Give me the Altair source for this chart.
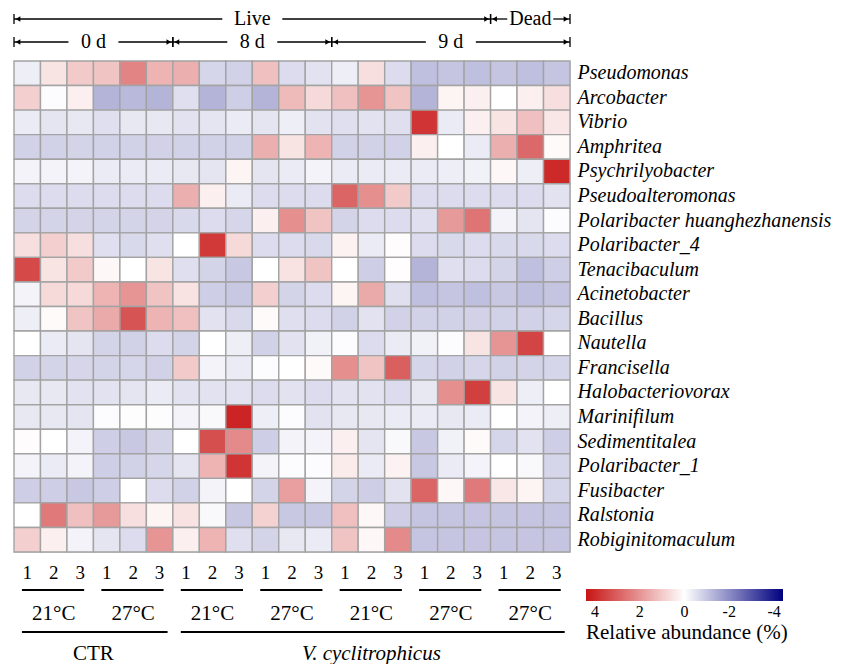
import altair as alt
import pandas as pd

# ---------------- data ----------------
taxa = ["Pseudomonas", "Arcobacter", "Vibrio", "Amphritea", "Psychrilyobacter",
        "Pseudoalteromonas", "Polaribacter huanghezhanensis", "Polaribacter_4",
        "Tenacibaculum", "Acinetobacter", "Bacillus", "Nautella", "Francisella",
        "Halobacteriovorax", "Marinifilum", "Sedimentitalea", "Polaribacter_1",
        "Fusibacter", "Ralstonia", "Robiginitomaculum"]

pseudomonas = [-0.3, 0.5, 1.0, 1.1, 2.3, 1.4, 1.5, -0.7, -0.8, 1.2, -0.6, -0.5, -0.3, 0.6, -0.6, -1.1, -1.0, -1.1, -1.0, -1.1, -1.0]
arcobacter = [0.9, -0.05, 0.3, -1.3, -1.2, -1.3, -0.55, -1.3, -0.85, -1.3, 1.3, 0.7, 1.2, 2.0, 1.1, -1.3, 0.2, 0.3, 0.0, 0.3, 0.6]
vibrio = [-0.35, -0.45, -0.4, -0.55, -0.4, -0.4, -0.5, -0.45, -0.35, -0.45, -0.3, -0.5, -0.55, -0.5, -0.55, 3.8, -0.35, 0.3, 0.5, 1.2, 0.45]
amphritea = [-0.8, -0.8, -0.75, -0.8, -0.8, -0.8, -0.8, -0.8, -0.8, 1.5, 0.5, 1.4, -0.8, -0.8, -0.8, 0.3, 0.0, -0.35, 1.5, 2.8, 0.1]
psychrilyobacter = [-0.2, -0.2, -0.2, -0.35, -0.35, -0.35, -0.4, -0.45, 0.2, -0.45, -0.35, -0.2, -0.35, -0.35, -0.35, -0.35, -0.3, -0.25, 0.15, -0.3, 4.0]
pseudoalteromonas = [-0.6, -0.6, -0.6, -0.6, -0.6, -0.6, 1.5, 0.3, -0.35, -0.6, -0.6, -0.6, 2.9, 2.1, 1.0, -0.6, -0.6, -0.6, -0.6, -0.6, -0.5]
polaribacter_hh = [-0.75, -0.75, -0.75, -0.75, -0.75, -0.75, -0.65, -0.6, -0.7, 0.3, 2.1, 1.1, -0.75, -0.6, -0.6, -0.55, 1.9, 2.6, -0.2, -0.45, -0.05]
polaribacter_4 = [0.6, 0.9, 0.6, -0.55, -0.65, -0.55, 0.0, 3.7, 0.7, -0.6, -0.6, -0.65, 0.25, -0.35, 0.05, -0.6, -0.65, -0.6, -0.65, -0.65, -0.6]
tenacibaculum = [3.4, 0.5, 1.0, 0.15, 0.0, 0.5, -0.55, -0.75, -0.95, 0.0, 0.55, 1.1, 0.0, -0.85, 0.03, -1.3, -0.55, -0.6, -0.75, -1.1, -0.85]
acinetobacter = [-0.2, 0.7, 0.7, 1.4, 2.0, 1.1, 0.55, -0.85, -0.95, 0.9, -0.75, -0.6, 0.2, 1.6, -0.55, -1.1, -1.0, -1.1, -0.95, -1.1, -1.0]
bacillus = [-0.3, 0.1, 1.1, 1.6, 3.2, 1.4, 1.2, -0.5, -0.65, 0.1, -0.55, -0.6, -0.8, -0.5, -0.8, -0.8, -0.8, -0.8, -0.8, -0.8, -0.7]
nautella = [0.0, -0.35, -0.45, -0.75, -0.8, -0.6, -0.75, 0.0, -0.3, -0.8, -0.5, -0.25, -0.05, -0.6, -0.35, -0.25, -0.05, 0.5, 2.0, 3.5, 0.0]
francisella = [-0.8, -0.75, -0.7, -0.75, -0.7, -0.8, 1.0, -0.2, -0.35, -0.05, 0.0, 0.1, 2.1, 1.1, 3.0, -0.7, -0.8, -0.7, -0.8, -0.75, -0.7]
halobacteriovorax = [-0.4, -0.4, -0.5, -0.5, -0.45, -0.35, -0.5, -0.5, -0.5, -0.6, -0.5, -0.6, -0.5, -0.5, -0.6, -0.4, 2.1, 3.6, 0.5, -0.3, 0.0]
marinifilum = [-0.4, -0.4, -0.45, -0.05, -0.03, -0.03, -0.2, -0.1, 4.1, -0.3, -0.05, -0.5, -0.4, -0.4, -0.35, -0.35, -0.4, -0.35, 0.0, -0.2, -0.3]
sedimentitalea = [0.05, 0.0, -0.2, -0.85, -0.95, -0.75, 0.0, 3.3, 2.2, -0.85, -0.2, -0.2, 0.3, -0.45, -0.1, -0.95, -0.25, 0.1, -0.7, -0.5, -0.85]
polaribacter_1 = [-0.2, -0.35, -0.2, -0.85, -0.8, -0.7, -0.45, 1.4, 3.8, -0.2, -0.05, -0.05, 0.35, -0.35, 0.25, -0.95, -0.35, -0.2, 0.0, -0.1, -0.7]
fusibacter = [-0.85, -0.85, -0.95, -0.85, 0.0, -0.6, -0.8, -0.2, 0.0, -0.75, 1.8, -0.2, -0.75, -0.85, -0.5, 2.9, 0.15, 2.5, 0.45, 0.2, -0.7]
ralstonia = [0.0, 2.5, 1.2, 1.9, 0.6, 0.2, 0.55, -0.1, -0.95, 0.85, -0.95, -0.95, 1.2, 0.15, -0.85, -1.0, -1.0, -1.0, -1.0, -1.0, -1.0]
robiginitomaculum = [0.9, 0.3, -0.2, -0.45, -0.6, 2.0, 0.3, 1.4, -0.55, -0.75, -0.4, -0.35, 1.1, 0.15, 2.2, -1.0, -1.0, -1.0, -1.0, -1.0, -1.0]

rows = [pseudomonas, arcobacter, vibrio, amphritea, psychrilyobacter, pseudoalteromonas,
        polaribacter_hh, polaribacter_4, tenacibaculum, acinetobacter, bacillus, nautella,
        francisella, halobacteriovorax, marinifilum, sedimentitalea, polaribacter_1,
        fusibacter, ralstonia, robiginitomaculum]

replicates = ["1", "2", "3"] * 7

state_groups = [("Live", 0, 18), ("Dead", 18, 21)]
day_groups = [("0 d", 0, 6), ("8 d", 6, 12), ("9 d", 12, 21)]
temp_groups = [("21°C", 0, 3), ("27°C", 3, 6), ("21°C", 6, 9), ("27°C", 9, 12),
               ("21°C", 12, 15), ("27°C", 15, 18), ("27°C", 18, 21)]
treat_groups = [("CTR", 0, 6, "normal"), ("V. cyclitrophicus", 6, 21, "italic")]

legend_values = [4, 2, 0, -2, -4]

# ---------------- layout ----------------
W, H = 556, 491
NCOL = len(replicates)
COLW = W / NCOL
FONT = "Liberation Serif"
gap_px = {"Live": 60, "Dead": 46, "0 d": 50, "8 d": 50, "9 d": 50}

cells = []
for taxon, vals in zip(taxa, rows):
    for j, v in enumerate(vals):
        cells.append({"taxon": taxon, "col": j, "col_end": j + 1, "value": v, "neg": -v})
cells = pd.DataFrame(cells)

xscale = alt.Scale(domain=[0, NCOL], nice=False, zero=False)

heat = alt.Chart(cells).mark_rect(stroke="#a3a3a3", strokeWidth=1.4).encode(
    x=alt.X("col:Q", scale=xscale, axis=None),
    x2="col_end:Q",
    y=alt.Y("taxon:N", sort=taxa,
            scale=alt.Scale(paddingInner=0, paddingOuter=0),
            axis=alt.Axis(orient="right", title=None, ticks=False, domain=False,
                          labelFont=FONT, labelFontStyle="italic", labelFontSize=20,
                          labelColor="black", labelPadding=7, labelLimit=400)),
    color=alt.Color("neg:Q",
                    scale=alt.Scale(domain=[-4.4, 0, 4.4],
                                    range=["#c81414", "#ffffff", "#00007f"],
                                    interpolate="rgb"),
                    legend=alt.Legend(
                        orient="none", legendX=572, legendY=528, direction="horizontal",
                        gradientLength=197, gradientThickness=12, gradientStrokeWidth=0,
                        values=[-v for v in legend_values],
                        labelExpr="datum.value == 0 ? '0' : (datum.value < 0 ? '' + (-datum.value) : '-' + datum.value)",
                        labelFont=FONT, labelFontSize=16, labelColor="black", labelOffset=3,
                        title="Relative abundance (%)", titleOrient="bottom",
                        titleFont=FONT, titleFontSize=21, titleFontWeight="normal",
                        titleColor="black", titlePadding=2, titleLimit=400)),
)

layers = [heat]


def arrow_row(groups, ypix):
    segs, ends, lefts, rights, labels = [], [], [], [], []
    for name, s, e in groups:
        mid = (s + e) / 2
        g = gap_px[name] / COLW / 2
        segs.append({"a": s, "b": mid - g})
        segs.append({"a": mid + g, "b": e})
        ends += [{"p": s}, {"p": e}]
        lefts.append({"p": s})
        rights.append({"p": e})
        labels.append({"p": mid, "t": name})
    out = []
    out.append(alt.Chart(pd.DataFrame(segs)).mark_rule(color="black", strokeWidth=1.3).encode(
        x=alt.X("a:Q", scale=xscale), x2="b:Q", y=alt.value(ypix)))
    out.append(alt.Chart(pd.DataFrame(ends)).mark_rule(color="black", strokeWidth=1.3).encode(
        x=alt.X("p:Q", scale=xscale), y=alt.value(ypix - 5), y2=alt.value(ypix + 5)))
    out.append(alt.Chart(pd.DataFrame(lefts)).mark_point(
        shape="triangle-left", filled=True, size=30, color="black", opacity=1, xOffset=4).encode(
        x=alt.X("p:Q", scale=xscale), y=alt.value(ypix)))
    out.append(alt.Chart(pd.DataFrame(rights)).mark_point(
        shape="triangle-right", filled=True, size=30, color="black", opacity=1, xOffset=-4).encode(
        x=alt.X("p:Q", scale=xscale), y=alt.value(ypix)))
    out.append(alt.Chart(pd.DataFrame(labels)).mark_text(
        font=FONT, fontSize=20, color="black", baseline="middle").encode(
        x=alt.X("p:Q", scale=xscale), y=alt.value(ypix), text="t:N"))
    return out


layers += arrow_row(state_groups, -42)
layers += arrow_row(day_groups, -19)

# replicate numbers
rep_df = pd.DataFrame({"p": [j + 0.5 for j in range(NCOL)], "t": replicates})
layers.append(alt.Chart(rep_df).mark_text(font=FONT, fontSize=19, color="black", baseline="middle").encode(
    x=alt.X("p:Q", scale=xscale), y=alt.value(H + 21), text="t:N"))

# temperature groups
temp_df = pd.DataFrame([{"a": s + 0.3, "b": e - 0.35, "m": (s + e) / 2, "t": n} for n, s, e in temp_groups])
layers.append(alt.Chart(temp_df).mark_rule(color="black", strokeWidth=2).encode(
    x=alt.X("a:Q", scale=xscale), x2="b:Q", y=alt.value(H + 38)))
layers.append(alt.Chart(temp_df).mark_text(font=FONT, fontSize=21, color="black", baseline="middle").encode(
    x=alt.X("m:Q", scale=xscale), y=alt.value(H + 62), text="t:N"))

# treatment groups
for n, s, e, style in treat_groups:
    tdf = pd.DataFrame([{"a": s + 0.3, "b": e - 0.2, "m": (s + e) / 2, "t": n}])
    layers.append(alt.Chart(tdf).mark_rule(color="black", strokeWidth=2).encode(
        x=alt.X("a:Q", scale=xscale), x2="b:Q", y=alt.value(H + 80)))
    layers.append(alt.Chart(tdf).mark_text(font=FONT, fontSize=21, fontStyle=style, color="black",
                                           baseline="middle").encode(
        x=alt.X("m:Q", scale=xscale), y=alt.value(H + 102), text="t:N"))

chart = alt.layer(*layers).properties(
    width=W, height=H,
    padding={"left": 5, "top": 1, "right": 2, "bottom": 0},
).configure_view(stroke=None).configure(font=FONT)

chart.save("out.html", embed_options={"renderer": "svg", "actions": False})
